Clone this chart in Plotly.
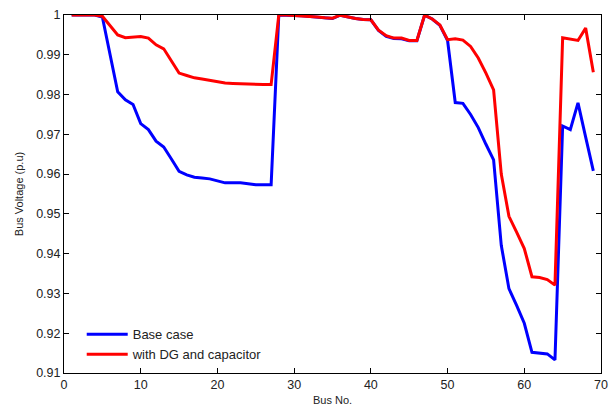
import plotly.graph_objects as go

bus = list(range(1, 70))

base_case = [
    1.0, 1.0, 1.0, 1.0, 0.9995, 0.9900, 0.9807, 0.9787, 0.9775, 0.9727,
    0.9712, 0.9683, 0.9668, 0.9638, 0.9607, 0.9598, 0.9592, 0.9590, 0.9588, 0.9583,
    0.9578, 0.9578, 0.9578, 0.9576, 0.9573, 0.9573, 0.9573, 1.0, 1.0, 0.9999,
    0.9998, 0.9996, 0.9994, 0.9992, 0.9991, 0.99995, 0.9995, 0.9991, 0.9989, 0.9988,
    0.9961, 0.9946, 0.9941, 0.9940, 0.9935, 0.9935, 0.99995, 0.9990, 0.9974, 0.9936,
    0.9780, 0.9778, 0.9750, 0.9717, 0.9675, 0.9636, 0.9421, 0.9312, 0.9270, 0.9225,
    0.9152, 0.9150, 0.9148, 0.9133, 0.9721, 0.9712, 0.9779, 0.9693, 0.9608,
]

with_dg = [
    1.0, 1.0, 1.0, 1.0, 0.9997, 0.9973, 0.9950, 0.9943, 0.9945, 0.9946,
    0.9942, 0.9925, 0.9915, 0.9883, 0.9854, 0.9848, 0.9842, 0.9839, 0.9836, 0.9833,
    0.9829, 0.9828, 0.9827, 0.9826, 0.9825, 0.9825, 0.9825, 1.0, 1.0, 0.9999,
    0.9998, 0.9997, 0.9995, 0.9993, 0.9992, 0.99995, 0.9995, 0.9991, 0.9989, 0.9988,
    0.9962, 0.9948, 0.9942, 0.9942, 0.9936, 0.9936, 0.99995, 0.9990, 0.9975, 0.9938,
    0.9940, 0.9937, 0.9921, 0.9892, 0.9854, 0.9812, 0.9600, 0.9494, 0.9454, 0.9413,
    0.9342, 0.9340, 0.9335, 0.9321, 0.9943, 0.9940, 0.9936, 0.9967, 0.9856,
]

x_ticks = [0, 10, 20, 30, 40, 50, 60, 70]
y_ticks = [0.91, 0.92, 0.93, 0.94, 0.95, 0.96, 0.97, 0.98, 0.99, 1.0]
y_labels = ["0.91", "0.92", "0.93", "0.94", "0.95", "0.96", "0.97", "0.98", "0.99", "1"]

fig = go.Figure()
fig.add_trace(go.Scatter(x=bus, y=base_case, mode="lines", name="Base case",
                         line=dict(color="#0000FF", width=3)))
fig.add_trace(go.Scatter(x=bus, y=with_dg, mode="lines", name="with DG and capacitor",
                         line=dict(color="#FF0000", width=3)))

axis_common = dict(showgrid=False, zeroline=False, showline=True, linecolor="black",
                   linewidth=1, mirror="ticks", ticks="inside", ticklen=5,
                   tickcolor="black", automargin=False,
                   tickfont=dict(size=12.5, color="#222"))

fig.update_layout(
    width=614, height=410,
    margin=dict(l=64, r=13, t=15, b=37),
    paper_bgcolor="white", plot_bgcolor="white",
    font=dict(family="Liberation Sans, Arial, sans-serif", size=12, color="#222"),
    xaxis=dict(range=[0, 70], tickvals=x_ticks,
               title=dict(text="Bus No.", font=dict(size=11), standoff=5), **axis_common),
    yaxis=dict(range=[0.91, 1.0], tickvals=y_ticks, ticktext=y_labels,
               title=dict(text="Bus Voltage (p.u)", font=dict(size=11), standoff=10), **axis_common),
    legend=dict(x=0.033, y=0.01, xanchor="left", yanchor="bottom",
                bgcolor="rgba(255,255,255,0)", borderwidth=0, itemwidth=41,
                font=dict(size=13, color="#222"), tracegroupgap=0),
    showlegend=True,
)

fig.write_html("out.html", config={"displayModeBar": False},
               post_script="document.body.style.margin='0';document.body.style.padding='0';")
